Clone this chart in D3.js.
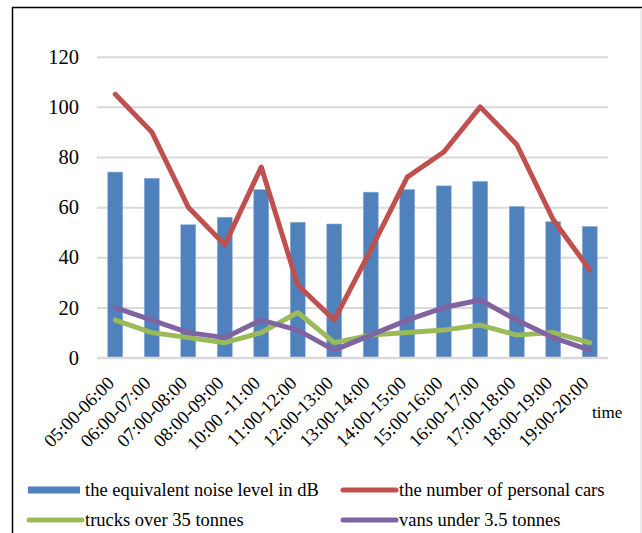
<!DOCTYPE html>
<html>
<head>
<meta charset="utf-8">
<script src="https://cdn.jsdelivr.net/npm/d3@7"></script>
<style>
  html, body { margin: 0; padding: 0; background: #fff; }
  svg { display: block; }
  svg text { font-family: "Liberation Serif", "Times New Roman", Times, serif !important; fill: #000; }
</style>
</head>
<body>
<svg id="chart" width="642" height="533"></svg>
<script>
// Hourly time slots
const categories = ["05:00-06:00", "06:00-07:00", "07:00-08:00", "08:00-09:00", "10:00 -11:00",
  "11:00-12:00", "12:00-13:00", "13:00-14:00", "14:00-15:00", "15:00-16:00",
  "16:00-17:00", "17:00-18:00", "18:00-19:00", "19:00-20:00"];

// Equivalent noise level (dB) per slot
const noiseLevel = [74, 71.5, 53, 56, 67, 54, 53.3, 66, 67, 68.5, 70.3, 60.3, 54.2, 52.3];
// Vehicle counts per slot
const personalCars = [105, 90, 60, 45, 76, 29, 15, 43, 72, 82, 100, 85, 55, 35];
const trucks = [15, 10, 8, 6, 10, 18, 6, 9, 10, 11, 13, 9, 10, 6];
const vans = [20, 15, 10, 8, 15, 11, 3, 9, 15, 20, 23, 15, 8, 3];

const yTicks = [0, 20, 40, 60, 80, 100, 120];

const legendLabels = ["the equivalent noise level in dB", "the number of personal cars",
  "trucks over 35 tonnes", "vans under 3.5 tonnes"];
const colors = { noise: "#4F81BD", cars: "#C0504D", trucks: "#9BBB59", vans: "#8064A2" };

const svg = d3.select("#chart");

// Outer frame
svg.append("line").attr("x1", 12.5).attr("x2", 12.5).attr("y1", 7).attr("y2", 533)
  .attr("stroke", "#000").attr("stroke-width", 1.5);
svg.append("line").attr("x1", 12).attr("x2", 642).attr("y1", 7.5).attr("y2", 7.5)
  .attr("stroke", "#000").attr("stroke-width", 1.5);
svg.append("line").attr("x1", 641).attr("x2", 641).attr("y1", 8).attr("y2", 533)
  .attr("stroke", "#d9d9d9").attr("stroke-width", 1);

const plot = { left: 97, right: 608, top: 56.7, bottom: 357.7 };

const x = d3.scaleBand().domain(categories).range([plot.left, plot.right]).paddingInner(0.59).paddingOuter(0.295);
const xc = d3.scalePoint().domain(categories).range([plot.left, plot.right]).padding(0.5);
const y = d3.scaleLinear().domain([0, 120]).range([plot.bottom, plot.top]);

// Gridlines
const grid = d3.axisLeft(y).tickValues(yTicks).tickSize(-(plot.right - plot.left)).tickFormat("");
svg.append("g").attr("transform", `translate(${plot.left},0)`).call(grid)
  .call(g => g.select(".domain").remove())
  .call(g => g.selectAll("line").attr("stroke", "#d9d9d9").attr("stroke-width", 2));

// Y tick labels
svg.append("g").attr("transform", `translate(${plot.left},0)`)
  .call(d3.axisLeft(y).tickValues(yTicks).tickSize(0).tickPadding(18))
  .call(g => g.select(".domain").remove())
  .call(g => g.selectAll("text").attr("font-size", 20.5));

// Bars
svg.append("g").selectAll("rect").data(noiseLevel).join("rect")
  .attr("x", (d, i) => x(categories[i]))
  .attr("width", x.bandwidth())
  .attr("y", d => y(d))
  .attr("height", d => y(0) - y(d))
  .attr("fill", colors.noise)
  .attr("stroke", "#8fb0d8").attr("stroke-width", 0.6);

// X axis
svg.append("g").attr("transform", `translate(0,${plot.bottom})`)
  .call(d3.axisBottom(xc).tickSize(0).tickPadding(0))
  .call(g => g.select(".domain").attr("stroke", "#d9d9d9").attr("stroke-width", 2)
    .attr("d", `M${plot.left},0H${plot.right}`))
  .call(g => g.selectAll("text")
    .attr("font-size", 18.5)
    .attr("text-anchor", "end")
    .attr("dy", "0.35em")
    .attr("transform", "translate(-5,22) rotate(-45)"));

svg.append("text").attr("x", 592).attr("y", 418).attr("font-size", 17).text("time");

// Lines
const lineGen = d3.line().x((d, i) => xc(categories[i])).y(d => y(d));
[[personalCars, colors.cars], [trucks, colors.trucks], [vans, colors.vans]].forEach(([data, c]) => {
  svg.append("path").datum(data).attr("d", lineGen)
    .attr("fill", "none").attr("stroke", c).attr("stroke-width", 5)
    .attr("stroke-linejoin", "round").attr("stroke-linecap", "round");
});

// Legend
const legend = [
  { label: legendLabels[0], color: colors.noise, type: "rect", x: 28, y: 490 },
  { label: legendLabels[1], color: colors.cars, type: "line", x: 342, y: 490 },
  { label: legendLabels[2], color: colors.trucks, type: "line", x: 28, y: 520 },
  { label: legendLabels[3], color: colors.vans, type: "line", x: 342, y: 520 }
];
const lg = svg.append("g");
legend.forEach(d => {
  if (d.type === "rect") {
    lg.append("rect").attr("x", d.x).attr("y", d.y - 3.5).attr("width", 52).attr("height", 7).attr("fill", d.color);
  } else {
    lg.append("line").attr("x1", d.x + 1).attr("x2", d.x + 54).attr("y1", d.y).attr("y2", d.y)
      .attr("stroke", d.color).attr("stroke-width", 5).attr("stroke-linecap", "round");
  }
  lg.append("text").attr("x", d.x + 57).attr("y", d.y).attr("dy", "0.32em")
    .attr("font-size", 18.5).text(d.label);
});
</script>
</body>
</html>
